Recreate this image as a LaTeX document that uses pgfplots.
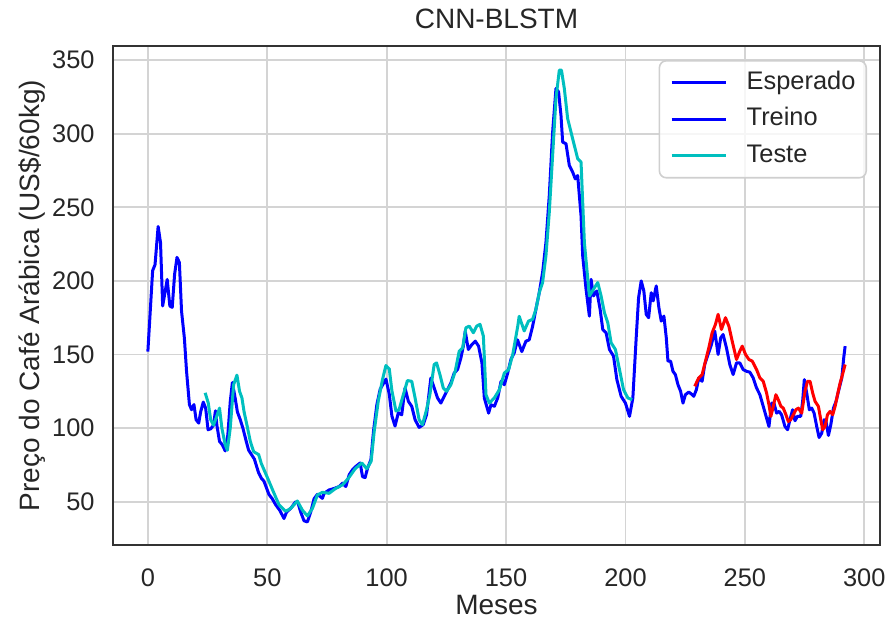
\documentclass[border=0pt]{standalone}
\usepackage{fontspec}
\setmainfont{Liberation Sans}
\usepackage{pgfplots}
\pgfplotsset{compat=1.18}
\definecolor{tickgray}{HTML}{262626}
\definecolor{gridgray}{HTML}{D4D4D4}
\definecolor{framegray}{HTML}{333333}
\definecolor{mycyan}{RGB}{0,191,191}
\definecolor{myblue}{RGB}{0,0,255}
\definecolor{myred}{RGB}{255,0,0}
\begin{document}
\begin{tikzpicture}
\begin{axis}[
  at={(0pt,0pt)}, anchor=south west,
  scale only axis, width=383.5pt, height=249.5pt,
  xmin=-14.6, xmax=306.6, ymin=20.6, ymax=359.6,
  xtick={0,50,...,300}, ytick={50,100,...,350},
  grid=major, major grid style={gridgray, line width=0.9pt},
  axis line style={framegray, line width=1.1pt},
  major tick length=0pt,
  tick label style={font=\fontsize{12.7}{14}\selectfont, text=tickgray, /pgf/number format/assume math mode=true},
  xticklabel style={inner sep=0pt, anchor=north, yshift=-11.5pt},
  yticklabel style={inner sep=0pt, anchor=east, xshift=-9pt},
  every axis title shift=0pt,
  title={CNN-BLSTM},
  title style={font=\fontsize{14}{16}\selectfont, text=tickgray, at={([yshift=8.5pt]axis description cs:0.5,1)}, anchor=base, inner sep=0pt},
  xlabel={Meses},
  xlabel style={font=\fontsize{14}{16}\selectfont, text=tickgray, at={([yshift=-35pt]axis description cs:0.5,0)}, anchor=base, inner sep=0pt},
  ylabel={Preço do Café Arábica (US\$/60kg)},
  ylabel style={font=\fontsize{14}{16}\selectfont, text=tickgray, at={([xshift=-36.5pt]axis description cs:0,0.5)}, anchor=base, rotate=0, inner sep=0pt},
  legend image code/.code={\draw[#1] (0pt,0pt) -- (27pt,0pt); \path[draw=none,fill=none] (0pt,0pt) (37.5pt,0pt);},
  legend cell align=left,
  legend style={at={(1,1)}, anchor=north east, xshift=-6.5pt, yshift=-7pt,
    draw=gray!38, line width=0.8pt, fill=white, fill opacity=0.8, text opacity=1,
    rounded corners=3.5pt, inner xsep=5.4pt, inner ysep=4.7pt, row sep=5.8pt,
    font=\fontsize{12.7}{14}\selectfont, text=tickgray,
    nodes={inner sep=0pt, text height=9.5pt, text depth=3pt}},
]
\addplot[myblue, line width=1.5pt, line join=round] coordinates {
(0,152) (2,207) (3,211) (4.3,237) (5.3,226) (6.2,183) (8.1,201) (9.2,183) (10.2,182) (11.2,204.5) (12.2,216) (13.2,212.5) (14.1,179.5) (15.3,161) (16.2,138.6) (17.4,116) (18.3,112.5) (19.3,116) (20.2,105.7) (21.3,103.4) (22.1,111) (23.2,117.7) (24.2,113.6) (25.2,98.9) (26.3,99.5) (27.5,102) (28.3,111.8) (28.9,102) (30,91) (31.2,88.6) (32.4,84.5) (33.5,95.5) (34.5,118) (35.4,131) (36.6,120) (37.5,111) (38.7,105.7) (39.8,100) (41.2,91) (42.2,85) (43.4,82) (44.6,79)
(46.3,70) (47.5,66) (48.6,64) (50.7,55) (52.1,52) (53.5,48) (55.3,44) (57,38.6) (58.1,43) (59.8,45.4) (61.9,50) (62.9,49) (64,43) (65.4,37) (66.8,36.3) (68.2,43) (69.6,52) (71,55) (73.1,52.3) (73.8,55.7) (75.9,58) (78,59) (80.1,60.3) (81.5,62.6) (82.9,60.3) (84.3,68.3) (85.7,71.7) (87.1,74) (88.9,76.3) (89.9,67) (91,66.4) (92,72.8) (93.4,78.5) (94.5,98) (95.9,116) (97.3,126.5) (99.7,133.3) (101.1,123) (102.2,108.2) (103.5,101.4) (104.9,110.5)
(106.3,109) (107.7,127.3) (109.1,118.2) (110.5,114.8) (111.9,105.7) (113.6,100.5) (115.3,102.3) (116.7,109) (118.5,134) (119.9,127.3) (121.3,120.5) (122.7,117) (124.1,121.6) (125.5,126.1) (126.9,130.7) (128.3,137.5) (129.7,139.8) (131.1,147.7) (132.1,155.7) (132.9,165.9) (134.2,153.4) (135.7,156.8) (137.1,159.1) (138.5,155.7) (139.9,144.3) (140.9,120.5) (141.9,114.8) (142.7,110.2) (143.7,115.9) (145.1,114.8) (146.5,120.5) (147.9,131.8) (149.3,129.5) (150.7,137.5)
(152.1,147) (153.4,151) (154.8,160) (156.6,152) (158.3,159) (159.7,160) (161.1,169) (162.5,180.7) (163.9,192) (165.3,205.7) (166.7,226) (168.1,258) (169.5,301) (170.9,330.7) (172,328.4) (173,312.5) (173.7,294.3) (175.1,293.2) (176.5,278.4) (177.9,273.9) (179,269.3) (180,271.6) (181.4,244.3) (182.1,217) (183.5,194.3) (184.9,176.1) (185.6,201.1) (186.6,189.8) (188,193.2) (189.4,180.7) (190.5,167) (191.9,164.8) (193.3,153.4) (195,148.9) (196.4,133) (198.2,121.6) (200,117) (201.7,108)
(203.1,120.5) (204.5,161.4) (205.5,188.6) (206.6,200) (207.7,193.2) (208.7,177.3) (209.7,175) (210.8,192) (211.6,186.4) (212.9,196.6) (214,181.8) (215,172.7) (216.1,176.1) (217.1,161.4) (217.8,145.5) (218.9,145.5) (219.9,138.6) (220.9,136.4) (222,129.5) (223.1,125) (224.1,117) (225.1,122.7) (226.5,124.5) (227.6,123.2) (228.6,121.6) (229.7,126.1) (230.7,134.1) (232.1,131.8) (233.2,143.2) (234.6,150) (236,156.8) (237.4,165.9) (238.8,150) (239.9,161.4) (240.9,163.6) (242.3,154.5) (243.7,143.2) (245.1,136.4) (246.5,144.3) (247.9,144.3) (249.3,139.8) (250.7,138.6)
(252.1,138) (253.5,134.1) (254.9,127.3) (256.3,122.7) (257.7,114.8) (259.1,106.8) (260.1,101.1) (261.2,117) (262.2,117) (263.3,110.2) (264.4,111.4) (265.4,109) (266.8,101.1) (267.9,98.9) (268.9,105.7) (270,112.5) (271,105) (272,108) (273.4,108) (274.2,118.2) (274.9,133) (275.9,123.9) (277,112.5) (278,113.6) (279,110.2) (280.1,101.1) (281.1,93.6) (282.2,96.6) (283.2,105.7) (284,104.5) (285,95) (286,102.3) (287.1,113.6) (288.2,118.2) (289.2,125) (290.6,134.1) (291.4,147.7) (292,155.7)
};
\addlegendentry{Esperado}
\addlegendimage{myblue, line width=1.5pt}
\addlegendentry{Treino}
\addplot[mycyan, line width=1.5pt, line join=round] coordinates {
(24,124) (25.3,117) (26.3,105.7) (27.5,102) (28.6,107) (30,113.6) (31,100) (32.4,88.6) (33.3,85) (34.5,100) (35.9,129.5) (37.3,136) (38.4,125) (39.4,120.5) (40.3,111) (41.5,102) (42.9,91) (44.3,84) (46.4,82) (47.5,76) (49.9,67) (52.5,57) (54.9,48) (57.7,43.5) (59.8,45.4) (62.6,50.5) (64.7,44.3) (66.8,40.4) (68.9,45.4) (71,54.6) (73.1,56.4) (75.9,55.7) (78.7,59.1) (81.5,61.4) (84,66) (86.8,72.4) (89.6,76.3) (91.7,72.4) (93.5,77.4) (94.8,98) (96.5,118.5) (98.3,133.3) (99.7,142.5) (101.1,140.2) (102.2,125.3) (103.9,111.6) (105.2,112.5) (106.6,120.5) (108.7,132.3) (110.5,131.8) (111.9,120.5) (113.6,105.7) (115,102.3) (116.7,112.5) (118.1,122.7) (119.9,143.2) (120.9,144.3) (122.3,136.4) (123.7,127.3) (125.1,125) (126.9,129.5) (128.7,138.6) (130.4,152.3) (131.8,154.5) (133.2,168.2) (134.6,169.3) (136.3,164.8) (137.7,169.3) (139.1,170.5) (140.5,162.5) (141.6,122.7) (143,117) (145.1,120.5) (147.2,126.1) (149.3,137.5) (151.1,139.8) (152.8,150) (154.9,169.3) (155.5,176) (157.6,166) (159.4,172.7) (161.1,173.9) (162.5,180.7) (163.9,192) (165.3,198.9) (166.7,217) (168.1,246.6) (169.5,285.2) (170.9,323.9) (172.3,343.2) (173.2,343.2) (174.4,330.7) (175.8,310.2) (177.2,301.1) (178.6,292) (180,283) (181.4,280.7) (182.8,226) (184.9,189.8) (186.6,194.3) (188.4,198.9) (189.8,189.8) (191.2,178.4) (192.6,171.6) (194,158) (195.8,153.4) (197.5,139.8) (199.2,126.1) (201,120.5) (202.8,119.3)
};
\addlegendentry{Teste}
\addplot[myred, line width=1.5pt, line join=round, forget plot] coordinates {
(229,128.4) (230.7,134.1) (232.1,136.4) (233.5,145.5) (234.9,154.5) (236.3,164.8) (237.7,170.5) (238.8,177.3) (240.2,167) (241.9,175) (243.3,169.3) (244.7,159.1) (246.5,146.6) (247.9,152.3) (248.9,155.7) (250.3,150) (251.7,146.6) (253.1,145.5) (254.9,139.8) (256.3,134.1) (257.7,131.8) (259.1,123.9) (260.1,115.9) (260.9,108) (261.9,114.8) (263,122.7) (264,119.3) (265.1,114.8) (266.1,113.6) (267.2,109.1) (268.2,104.5) (269.2,105.7) (270.3,109.1) (271.4,112.5) (272.4,113.6) (273.8,110.2) (275.2,125) (276.2,131.8) (277.3,131.8) (278.4,123.9) (279.4,118.2) (280.8,114.8) (281.8,105.7) (282.6,98.9) (283.6,101.1) (284.6,109.1) (285.7,111.4) (286.8,109.1) (287.8,114.8) (288.8,122.7) (289.9,130.7) (290.9,136.4) (292,143.2)
};
\end{axis}
\pgfresetboundingbox
\path[use as bounding box] (-56.5pt,-39.5pt) rectangle (387pt,272.5pt);
\end{tikzpicture}
\end{document}
